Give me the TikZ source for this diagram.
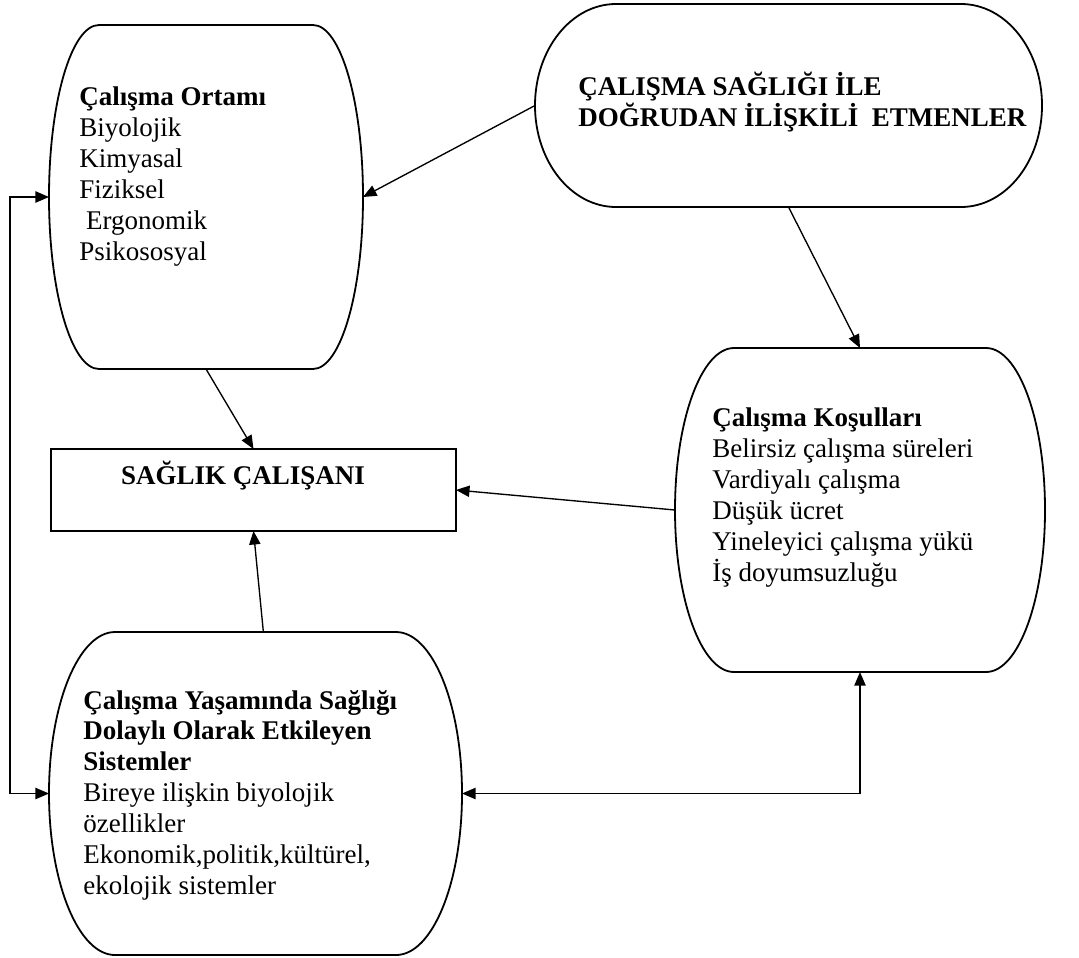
\documentclass[tikz,border=0pt]{standalone}
\usepackage{fontspec}
\setmainfont{Liberation Serif}[BoldFont={Liberation Serif Bold}]
\usetikzlibrary{fit, calc, arrows.meta}

\begin{document}
\begin{tikzpicture}[x=0.4444pt, y=0.4444pt,
	area/.style = {inner sep=0pt, outer sep=0pt},
	outline/.style = {line width=0.8pt},
	yazi/.style = {align=left, anchor=base west, inner sep=0pt, font=\fontsize{12}{13.7}\selectfont},
	ok/.style = {-{Triangle[length=6pt, width=5pt]}, line width=0.6pt},
	ciftok/.style = {{Triangle[length=6pt, width=5pt]}-{Triangle[length=6pt, width=5pt]}, line width=0.6pt}]
	\useasboundingbox (0,0) rectangle (1079,-957);
	% kutular
	\node[area, fit={(49,-25) (363,-369)}] (ortam) {};
	\node[area, fit={(535,-4) (1042,-207)}] (etmen) {};
	\node[area, fit={(675,-348) (1045,-672)}] (kosul) {};
	\node[area, fit={(49,-632) (462,-955)}] (sistem) {};
	\node[area, draw, outline, fit={(51,-449) (456,-531)}] (calisan) {};
	\coordinate (sol) at (10,-197);
	% kenarlar
	\draw[outline] ($(ortam.north west)+(50,0)$) -- ($(ortam.north east)+(-50,0)$)
		arc[start angle=90, end angle=-90, x radius=50, y radius=172] -- ($(ortam.south west)+(50,0)$)
		arc[start angle=270, end angle=90, x radius=50, y radius=172] -- cycle;
	\draw[outline] ($(etmen.north west)+(81,0)$) -- ($(etmen.north east)+(-81,0)$)
		arc[start angle=90, end angle=-90, x radius=81, y radius=101.5] -- ($(etmen.south west)+(81,0)$)
		arc[start angle=270, end angle=90, x radius=81, y radius=101.5] -- cycle;
	\draw[outline] ($(kosul.north west)+(59,0)$) -- ($(kosul.north east)+(-59,0)$)
		arc[start angle=90, end angle=-90, x radius=59, y radius=162] -- ($(kosul.south west)+(59,0)$)
		arc[start angle=270, end angle=90, x radius=59, y radius=162] -- cycle;
	\draw[outline] ($(sistem.north west)+(66,0)$) -- ($(sistem.north east)+(-66,0)$)
		arc[start angle=90, end angle=-90, x radius=66, y radius=161.5] -- ($(sistem.south west)+(66,0)$)
		arc[start angle=270, end angle=90, x radius=66, y radius=161.5] -- cycle;
	% yazilar (son satirin tabani)
	\node[yazi] (ortamyazi) at (79,-260) {\textbf{Çalışma Ortamı}\\Biyolojik\\Kimyasal\\Fiziksel\\\ Ergonomik\\Psikososyal};
	\node[yazi] (etmenyazi) at (578,-126) {\textbf{ÇALIŞMA SAĞLIĞI İLE}\\\textbf{DOĞRUDAN İLİŞKİLİ\ \ ETMENLER}};
	\node[yazi] (kosulyazi) at (712,-581) {\textbf{Çalışma Koşulları}\\Belirsiz çalışma süreleri\\Vardiyalı çalışma\\Düşük ücret\\Yineleyici çalışma yükü\\İş doyumsuzluğu};
	\node[yazi] (sistemyazi) at (83,-894) {\textbf{Çalışma Yaşamında Sağlığı}\\\textbf{Dolaylı Olarak Etkileyen}\\\textbf{Sistemler}\\Bireye ilişkin biyolojik\\özellikler\\Ekonomik,politik,kültürel,\\ekolojik sistemler};
	\node[yazi, anchor=base] (calisanyazi) at (243,-484) {\textbf{SAĞLIK ÇALIŞANI}};
	% oklar
	\draw[ok] (etmen.west) -- (ortam.east);
	\draw[ok] (etmen.south) -- (kosul.north);
	\draw[ok] (ortam.south) -- (calisan.north);
	\draw[ok] (kosul.west) -- (calisan.east);
	\draw[ok] ([xshift=3.5pt]sistem.north) -- (calisan.south);
	\draw[ciftok] (ortam.west) -- (sol) |- (sistem.west);
	\draw[ciftok] (kosul.south) |- (sistem.east);
\end{tikzpicture}
\end{document}
